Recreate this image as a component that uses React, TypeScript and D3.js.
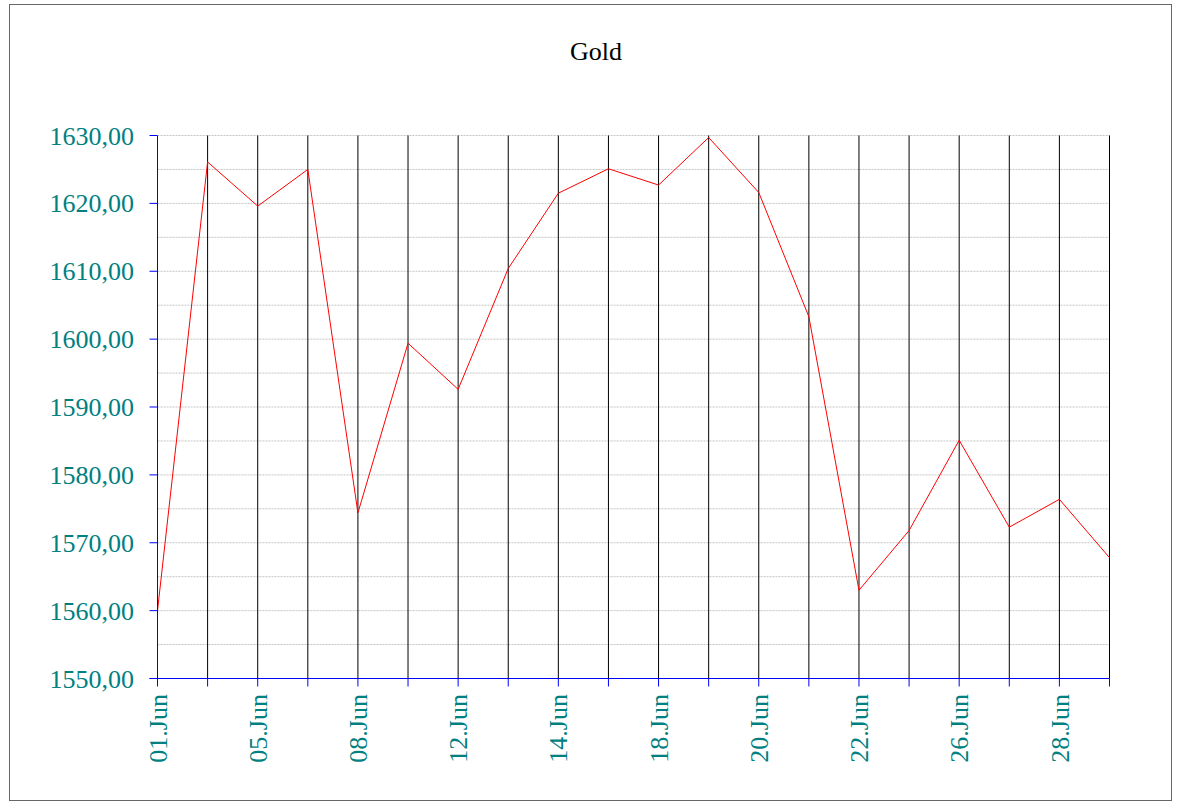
import React from "react";
import * as d3 from "d3";

const dates = [
  "01.Jun", "04.Jun", "05.Jun", "06.Jun", "08.Jun", "11.Jun", "12.Jun", "13.Jun", "14.Jun", "15.Jun",
  "18.Jun", "19.Jun", "20.Jun", "21.Jun", "22.Jun", "25.Jun", "26.Jun", "27.Jun", "28.Jun", "29.Jun",
];
const goldValues = [
  1560.0, 1626.1, 1619.6, 1625.0, 1574.4, 1599.4, 1592.6, 1610.4, 1621.5, 1625.1,
  1622.7, 1629.7, 1621.6, 1603.3, 1563.0, 1571.8, 1585.1, 1572.3, 1576.4, 1567.8,
];
const yMajorTicks = [1550, 1560, 1570, 1580, 1590, 1600, 1610, 1620, 1630];
const yGridTicks = [1555, 1560, 1565, 1570, 1575, 1580, 1585, 1590, 1595, 1600, 1605, 1610, 1615, 1620, 1625, 1630];
const title = "Gold";

const W = 1179;
const H = 802;
const FONT = "'Liberation Serif', 'Times New Roman', serif";
const TEAL = "#008080";

export default function App() {
  const x = d3.scalePoint<string>().domain(dates).range([157.5, 1109.5]);
  const y = d3.scaleLinear().domain([1550, 1630]).range([678.5, 135.5]);
  const line = d3
    .line<number>()
    .x((_, i) => x(dates[i]) as number)
    .y((d) => y(d));
  const fmt = (v: number) => v.toFixed(2).replace(".", ",");
  const x0 = x.range()[0];
  const x1 = x.range()[1];

  return (
    <svg
      width={W}
      height={H}
      style={{ position: "absolute", left: 0, top: 0, background: "#fff" }}
      fontFamily={FONT}
    >
      <rect x={9.5} y={4.5} width={1162} height={796} fill="#fff" stroke="#666" strokeWidth={1} />
      <text x={596} y={60} textAnchor="middle" fontSize={26} fill="#000">
        {title}
      </text>
      {yGridTicks.map((t) => (
        <line
          key={"g" + t}
          x1={x0}
          x2={x1}
          y1={y(t)}
          y2={y(t)}
          stroke="#c4c4c4"
          strokeWidth={1}
          strokeDasharray="2,1"
        />
      ))}
      {dates.map((d, i) =>
        i === 0 ? null : (
          <line key={"v" + d} x1={x(d)} x2={x(d)} y1={y(1630)} y2={y(1550)} stroke="#000" strokeWidth={1} />
        )
      )}
      <path d={line(goldValues) || ""} fill="none" stroke="#ff0000" strokeWidth={1} />
      {/* axes */}
      <line x1={x0} x2={x0} y1={y(1630)} y2={y(1550)} stroke="#0000ff" strokeWidth={1} />
      <line x1={x0 - 8} x2={x1} y1={y(1550)} y2={y(1550)} stroke="#0000ff" strokeWidth={1} />
      {yMajorTicks.map((t) => (
        <g key={"y" + t}>
          <line x1={x0 - 8} x2={x0} y1={y(t)} y2={y(t)} stroke="#0000ff" strokeWidth={1} />
          <text x={134} y={y(t)} dy="0.35em" textAnchor="end" fontSize={26} fill={TEAL}>
            {fmt(t)}
          </text>
        </g>
      ))}
      {dates.map((d, i) => (
        <g key={"x" + d}>
          <line x1={x(d)} x2={x(d)} y1={y(1550)} y2={y(1550) + 8} stroke="#0000ff" strokeWidth={1} />
          {i % 2 === 0 ? (
            <text
              transform={`translate(${x(d)},694) rotate(-90)`}
              dy="0.35em"
              textAnchor="end"
              fontSize={26}
              fill={TEAL}
            >
              {d}
            </text>
          ) : null}
        </g>
      ))}
    </svg>
  );
}
